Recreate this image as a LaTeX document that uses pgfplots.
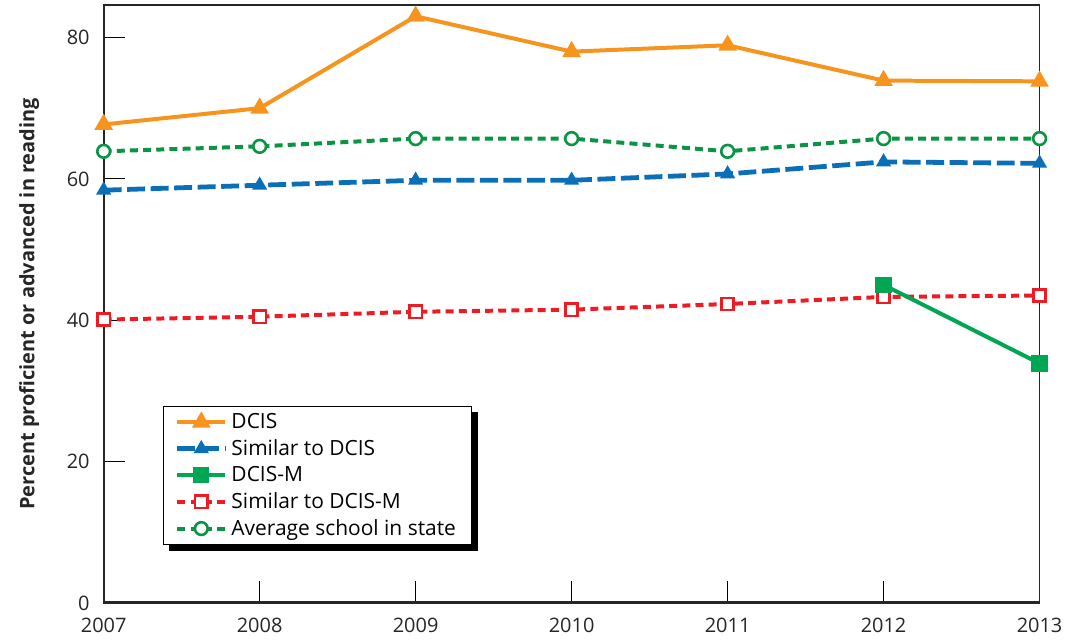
\documentclass[border=0pt]{standalone}
\usepackage{fontspec}
\setmainfont{Open Sans}
\usepackage{pgfplots}
\pgfplotsset{compat=1.18}
\usetikzlibrary{backgrounds}
\definecolor{dcorange}{HTML}{F7941D}
\definecolor{dcblue}{HTML}{0B6FB8}
\definecolor{dcgreen}{HTML}{00A651}
\definecolor{avgreen}{HTML}{0A9444}
\definecolor{dcred}{HTML}{ED1C24}
\tikzset{
  sDCIS/.style={dcorange, line width=2pt, mark=triangle*, mark size=3.4pt, mark options={solid, fill=dcorange}},
  sSim/.style={dcblue, line width=2.4pt, dash pattern=on 9pt off 2.8pt, mark=triangle*, mark size=3.4pt, mark options={solid, fill=dcblue, line width=1pt}},
  sDCISM/.style={dcgreen, line width=2pt, mark=square*, mark size=3.1pt, mark options={solid, fill=dcgreen}},
  sSimM/.style={dcred, line width=2pt, dash pattern=on 4pt off 2.6pt, mark=square*, mark size=3.1pt, mark options={solid, fill=white, line width=1.3pt}},
  sAvg/.style={avgreen, line width=2pt, dash pattern=on 4pt off 2.6pt, mark=*, mark size=3.2pt, mark options={solid, fill=white, line width=1.3pt}},
}
\begin{document}
\begin{tikzpicture}
\begin{axis}[
  scale only axis,
  width=469.5pt, height=300pt,
  xmin=2007, xmax=2013, ymin=0, ymax=84.6,
  xtick={2007,2008,2009,2010,2011,2012,2013},
  ytick={0,20,40,60,80},
  tick align=inside, major tick length=11pt,
  xtick pos=bottom, ytick pos=left,
  tick style={black, line width=0.6pt},
  axis line style={black!85, line width=0.6pt},
  /pgf/number format/assume math mode=true,
  /pgf/number format/1000 sep={},
  tick label style={font=\fontsize{10}{11}\selectfont, text=black!85},
  yticklabel style={xshift=-3.5pt},
  xticklabel style={yshift=-4pt},
  ylabel={\bfseries Percent proficient or advanced in reading},
  ylabel style={font=\fontsize{10}{11}\selectfont, text=black!85, yshift=7pt},
  legend cell align=left,
  legend style={name=leg, at={(rel axis cs:0.063,0.33)}, anchor=north west,
    font=\fontsize{10.5}{13.5}\selectfont, draw=black, line width=0.5pt, fill=white,
    inner xsep=6pt, inner ysep=1.5pt, row sep=0pt},
  legend image code/.code={
    \draw[mark repeat=2, mark phase=2] plot coordinates {(0cm,0cm) (0.42cm,0cm) (0.84cm,0cm)};
  },
]
\addlegendimage{sDCIS}\addlegendentry{DCIS}
\addlegendimage{sSim}\addlegendentry{Similar to DCIS}
\addlegendimage{sDCISM}\addlegendentry{DCIS-M}
\addlegendimage{sSimM}\addlegendentry{Similar to DCIS-M}
\addlegendimage{sAvg}\addlegendentry{Average school in state}

\addplot[sAvg, forget plot] coordinates {
(2007,63.9) (2008,64.6) (2009,65.7) (2010,65.7) (2011,63.9) (2012,65.7) (2013,65.7)};
\addplot[sSim, forget plot] coordinates {
(2007,58.4) (2008,59.1) (2009,59.8) (2010,59.8) (2011,60.7) (2012,62.4) (2013,62.2)};
\addplot[sSimM, forget plot] coordinates {
(2007,40.1) (2008,40.5) (2009,41.2) (2010,41.5) (2011,42.3) (2012,43.3) (2013,43.5)};
\addplot[sDCISM, forget plot] coordinates {
(2012,45.0) (2013,33.9)};
\addplot[sDCIS, forget plot] coordinates {
(2007,67.7) (2008,70.0) (2009,83.0) (2010,78.0) (2011,78.9) (2012,73.9) (2013,73.8)};

\draw[black!85, line width=1.6pt] (rel axis cs:0,1) -- (rel axis cs:0,0) -- (rel axis cs:1,0);
\end{axis}
\begin{scope}[on background layer]
\fill[black] ([shift={(3pt,-3pt)}]leg.south west) rectangle ([shift={(3pt,-3pt)}]leg.north east);
\end{scope}
\path ([xshift=-52pt]current axis.west) ([xshift=13pt]current axis.east)
      ([yshift=2.5pt]current axis.north) ([yshift=-16pt]current axis.south);
\end{tikzpicture}
\end{document}
